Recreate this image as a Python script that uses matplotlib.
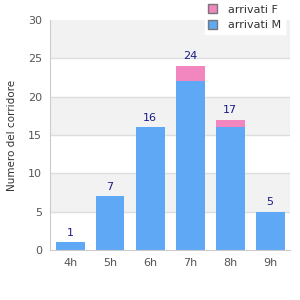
import matplotlib.pyplot as plt
from matplotlib.patches import Patch

ore = ['4h', '5h', '6h', '7h', '8h', '9h']
arrivati_m = [1, 7, 16, 22, 16, 5]
arrivati_f = [0, 0, 0, 2, 1, 0]
totali = [m + f for m, f in zip(arrivati_m, arrivati_f)]

blu = '#5ea8f5'
rosa = '#f287c0'

fig = plt.figure(figsize=(3, 3), dpi=100)
ax = fig.add_axes([0.167, 0.167, 0.8, 0.766])

# bande alternate
for i in range(6):
    if i % 2 == 1:
        ax.axhspan(i * 5, i * 5 + 5, color='#f2f2f2', zorder=0, lw=0)
for y in range(5, 30, 5):
    ax.axhline(y, color='#dddddd', lw=1, zorder=1)

x = range(len(ore))
ax.bar(x, arrivati_m, width=0.72, color=blu, zorder=2)
ax.bar(x, arrivati_f, width=0.72, bottom=arrivati_m, color=rosa, zorder=2)

for i, t in enumerate(totali):
    ax.text(i, t + 0.6, str(t), ha='center', va='bottom', fontsize=8, color='#1a1a8c')

ax.set_xlim(-0.5, 5.5)
ax.set_ylim(0, 30)
ax.set_xticks(list(x))
ax.set_xticklabels(ore)
ax.set_yticks(range(0, 31, 5))
ax.tick_params(labelsize=8, colors='#555555', length=0, pad=6)
ax.set_ylabel('Numero del corridore', fontsize=7.5, color='#333333', labelpad=8)

for s in ['top', 'right']:
    ax.spines[s].set_visible(False)
for s in ['left', 'bottom']:
    ax.spines[s].set_color('#cccccc')

handles = [Patch(facecolor=rosa, edgecolor='#777777', label='arrivati F'),
           Patch(facecolor=blu, edgecolor='#777777', label='arrivati M')]
leg = fig.legend(handles=handles, loc='upper right', bbox_to_anchor=(0.967, 1.015),
                 fontsize=8, frameon=True, fancybox=False, handlelength=0.8,
                 handleheight=0.8, borderpad=0.3, labelspacing=0.5, handletextpad=1.0)
leg.get_frame().set_edgecolor('white')
leg.get_frame().set_facecolor('white')
leg.get_frame().set_alpha(1)
for t in leg.get_texts():
    t.set_color('#333333')

fig.savefig('out.png', dpi=100)
